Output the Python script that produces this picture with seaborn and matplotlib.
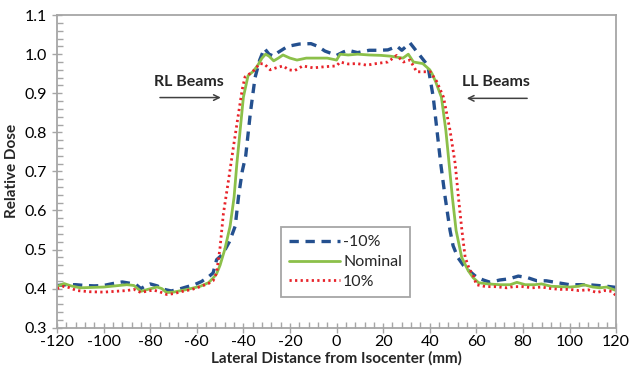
import numpy as np
import pandas as pd
import matplotlib
matplotlib.use("Agg")
import matplotlib.pyplot as plt
from matplotlib.ticker import MultipleLocator, FormatStrFormatter
import seaborn as sns

# ---- data ----
x_neg10 = [-120, -116, -112, -108, -104, -100, -96, -92, -88, -86, -84, -82, -80, -77, -74, -71, -68, -64, -61, -58, -55,
           -53, -51.5, -49, -46, -43.5, -42, -40.5, -39, -37, -35, -33, -31, -29, -27, -25, -21, -16, -11, -8, -5, 0,
           3, 5, 9, 14, 18, 22, 26, 28, 31.5, 34, 36, 38.5, 39.5, 41.5, 43, 44.7, 46.6, 48.7, 50, 52, 54.5, 57, 60,
           63, 66, 70, 74, 78, 82, 86, 90, 95, 100, 104, 108, 112, 116, 120]
y_neg10 = [0.408, 0.410, 0.410, 0.408, 0.407, 0.408, 0.413, 0.417, 0.413, 0.410, 0.400, 0.407, 0.412, 0.407, 0.398,
           0.394, 0.398, 0.405, 0.410, 0.418, 0.430, 0.440, 0.474, 0.487, 0.520, 0.560, 0.640, 0.700, 0.740, 0.850,
           0.940, 0.985, 1.015, 1.000, 0.995, 1.005, 1.020, 1.026, 1.027, 1.020, 1.008, 0.997, 1.006, 1.010, 1.004,
           1.010, 1.010, 1.011, 1.020, 1.010, 1.029, 1.010, 0.995, 0.976, 0.960, 0.890, 0.810, 0.720, 0.634, 0.549,
           0.510, 0.480, 0.459, 0.445, 0.430, 0.422, 0.416, 0.422, 0.425, 0.432, 0.428, 0.420, 0.420, 0.415, 0.410,
           0.410, 0.410, 0.408, 0.406, 0.403]

x_nom = [-120, -117, -114, -110, -105, -100, -95, -90, -87, -84, -81, -77, -75, -73, -70, -64, -58.5, -55, -53, -51.5,
         -50, -48, -45.7, -44, -42.8, -41.4, -40, -38, -36, -34, -32, -30.5, -29, -27, -25, -23, -20, -17, -13, -8,
         -4, 0, 1.5, 5, 9, 14, 19, 23, 28.5, 30.8, 33, 37, 40, 41, 42.5, 45, 46.9, 48.3, 49.7, 51.3, 53.7, 56.5, 58.6,
         61, 65, 70, 74.5, 77.4, 81, 85, 88, 92, 96, 100, 104, 106, 110, 113, 116, 120]
y_nom = [0.405, 0.413, 0.407, 0.402, 0.403, 0.404, 0.407, 0.410, 0.408, 0.393, 0.398, 0.404, 0.400, 0.390, 0.391,
         0.398, 0.406, 0.415, 0.427, 0.438, 0.460, 0.500, 0.560, 0.634, 0.720, 0.805, 0.890, 0.945, 0.955, 0.970,
         0.990, 1.000, 0.995, 0.983, 0.990, 0.998, 0.990, 0.985, 0.990, 0.990, 0.990, 0.985, 1.000, 0.998, 1.000,
         0.998, 0.997, 0.995, 0.990, 1.000, 0.980, 0.976, 0.960, 0.950, 0.930, 0.890, 0.805, 0.720, 0.634, 0.549,
         0.480, 0.446, 0.428, 0.415, 0.412, 0.410, 0.410, 0.416, 0.410, 0.410, 0.412, 0.406, 0.405, 0.404, 0.406,
         0.410, 0.404, 0.402, 0.404, 0.395]

x_pos10 = [-120, -117, -115, -111.5, -106, -100, -95, -90, -87, -84, -81, -78.5, -76, -73, -70, -66, -62, -58.5, -55,
           -53, -51.5, -50, -48.6, -46.4, -44.3, -42.1, -40.5, -39.3, -36, -33, -31, -28.5, -26, -23, -20.5, -18,
           -14.5, -10, -5, 0, 1.5, 5, 8.7, 13, 17, 22, 25.8, 28.7, 31.5, 34.4, 37, 40.2, 43, 45.9, 48.7, 50.9, 52.3,
           53.8, 55.2, 57, 58.6, 60, 64, 68, 73, 76, 80, 84, 88, 92, 96, 100, 104, 108, 111.7, 115, 118, 120]
y_pos10 = [0.400, 0.406, 0.403, 0.395, 0.392, 0.391, 0.393, 0.395, 0.398, 0.390, 0.394, 0.396, 0.392, 0.385, 0.387,
           0.393, 0.398, 0.405, 0.413, 0.420, 0.440, 0.506, 0.591, 0.677, 0.762, 0.848, 0.910, 0.942, 0.955, 0.976,
           0.975, 0.960, 0.965, 0.970, 0.960, 0.958, 0.970, 0.965, 0.968, 0.970, 0.980, 0.975, 0.976, 0.972, 0.976,
           0.980, 0.997, 0.980, 0.985, 0.955, 0.955, 0.955, 0.930, 0.890, 0.805, 0.720, 0.634, 0.549, 0.480, 0.450,
           0.435, 0.410, 0.405, 0.405, 0.402, 0.405, 0.405, 0.402, 0.404, 0.400, 0.398, 0.398, 0.395, 0.397, 0.390,
           0.395, 0.393, 0.382]

series_labels = ["-10%", "Nominal", "10%"]
x_ticks = [-120, -100, -80, -60, -40, -20, 0, 20, 40, 60, 80, 100, 120]
y_ticks = [0.3, 0.4, 0.5, 0.6, 0.7, 0.8, 0.9, 1.0, 1.1]
annot_labels = ["RL Beams", "LL Beams"]

# ---- plotting ----
sns.set_style("white")
plt.rcParams["font.family"] = ["Lato", "DejaVu Sans"]
plt.rcParams["axes.unicode_minus"] = False

fig = plt.figure(figsize=(6.3, 3.69), dpi=100)
ax = fig.add_axes([0.0905, 0.112, 0.8875, 0.847])

df_a = pd.DataFrame({"x": x_neg10, "y": y_neg10})
df_b = pd.DataFrame({"x": x_nom, "y": y_nom})
df_c = pd.DataFrame({"x": x_pos10, "y": y_pos10})

sns.lineplot(data=df_a, x="x", y="y", ax=ax, color="#24508f", lw=2.4,
             label=series_labels[0], sort=False)
ax.lines[-1].set_dashes([2.8, 2.0])
sns.lineplot(data=df_b, x="x", y="y", ax=ax, color="#8cc04a", lw=2.0,
             label=series_labels[1], sort=False)
sns.lineplot(data=df_c, x="x", y="y", ax=ax, color="#e8232a", lw=2.0,
             label=series_labels[2], sort=False)
ax.lines[-1].set_dashes([0.8, 1.2])

ax.set_xlim(-120, 120)
ax.set_ylim(0.3, 1.1)
ax.set_xticks(x_ticks)
ax.set_yticks(y_ticks)
ax.xaxis.set_minor_locator(MultipleLocator(4))
ax.yaxis.set_minor_locator(MultipleLocator(0.02))
ax.yaxis.set_major_formatter(FormatStrFormatter("%.1f"))

gray = "#a6a6a6"
for s in ax.spines.values():
    s.set_color(gray)
    s.set_linewidth(1.3)
ax.tick_params(which="major", direction="inout", length=7, width=1, color=gray,
               labelsize=11.5, labelcolor="black", bottom=True, left=True)
ax.tick_params(which="major", axis="x", pad=2)
ax.tick_params(which="minor", direction="in", length=4, width=1, color=gray,
               bottom=True, left=True)

ax.set_xlabel("Lateral Distance from Isocenter (mm)", fontsize=11, fontweight="bold", labelpad=1)
ax.set_ylabel("Relative Dose", fontsize=11, fontweight="bold", labelpad=4)

# annotations
ax.text(-63.3, 0.928, annot_labels[0], fontsize=11.5, fontweight="bold", ha="center", va="center")
ax.annotate("", xy=(-48.5, 0.889), xytext=(-77, 0.889),
            arrowprops=dict(arrowstyle="->", color="#404040", lw=1.1))
ax.text(68.3, 0.928, annot_labels[1], fontsize=11.5, fontweight="bold", ha="center", va="center")
ax.annotate("", xy=(54.7, 0.887), xytext=(83, 0.887),
            arrowprops=dict(arrowstyle="->", color="#404040", lw=1.1))

leg = ax.legend(loc="lower left", bbox_to_anchor=(0.386, 0.073), frameon=True, fancybox=False,
                fontsize=11.5, handlelength=3.2, handletextpad=0.2, borderpad=0.5,
                labelspacing=0.35, framealpha=1)
leg.get_frame().set_edgecolor(gray)
leg.get_frame().set_linewidth(1.3)

fig.savefig("out.png", dpi=100)
